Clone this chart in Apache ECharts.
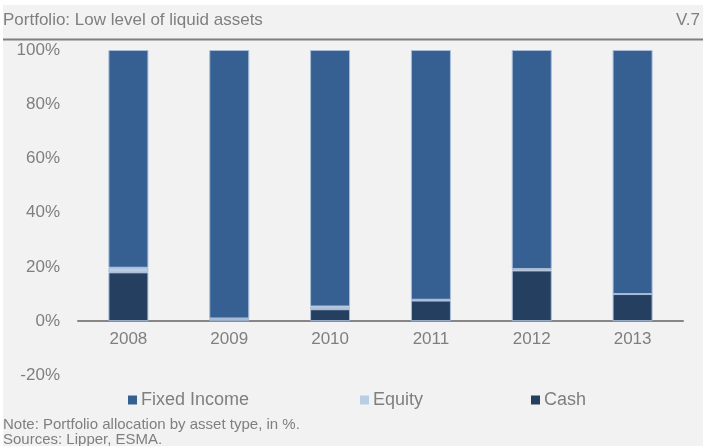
<!DOCTYPE html>
<html>
<head>
<meta charset="utf-8">
<script src="https://cdn.jsdelivr.net/npm/echarts@6/dist/echarts.min.js"></script>
<style>
html,body{margin:0;padding:0;background:#ffffff;}
#c{width:703px;height:446px;}
</style>
</head>
<body>
<div id="c"></div>
<script>
var categories = ['2008', '2009', '2010', '2011', '2012', '2013'];
var cash = [18.0, 0.8, 4.4, 7.6, 18.7, 10.0];
var equity = [1.7, 0.2, 1.0, 0.3, 0.5, 0.0];
var fixedIncome = [80.3, 99.0, 94.6, 92.1, 80.8, 90.0];
var yTicks = { min: -20, max: 100, interval: 20 };
var titleText = 'Portfolio: Low level of liquid assets';
var chartNumber = 'V.7';
var noteText = 'Note: Portfolio allocation by asset type, in %.';
var sourceText = 'Sources: Lipper, ESMA.';

var FONT = 'Arial, "Liberation Sans", sans-serif';
var GREY = '#7f7f7f';

var chart = echarts.init(document.getElementById('c'), null, { renderer: 'canvas' });

function legendAt(name, left) {
  return {
    data: [name], left: left, top: 391, itemWidth: 9, itemHeight: 9, itemGap: 0,
    icon: 'rect', padding: 0,
    itemStyle: { borderWidth: 0 },
    textStyle: { color: GREY, fontSize: 18, fontFamily: FONT, padding: [0, 0, 0, -1] }
  };
}

var barBorder = { borderColor: '#a8bcd8', borderWidth: 1 };

var gridTop = 50, gridBottom = 70.6, H = 446;
var zeroOffset = (H - gridTop - gridBottom) * (0 - yTicks.min) / (yTicks.max - yTicks.min);

chart.setOption({
  animation: false,
  backgroundColor: '#ffffff',
  graphic: [
    { type: 'rect', shape: { x: 3, y: 5, width: 700, height: 441 }, style: { fill: '#f2f2f2' }, z: -10 },
    { type: 'rect', shape: { x: 3, y: 38.5, width: 700, height: 2 }, style: { fill: '#7f7f7f' }, z: 1 },
    { type: 'text', left: 3, top: 12, style: { text: titleText, fill: GREY, font: '17px ' + FONT } },
    { type: 'text', right: 3, top: 12, style: { text: chartNumber, fill: GREY, font: '17px ' + FONT } },
    { type: 'text', left: 3, top: 417, style: { text: noteText, fill: GREY, font: '15px ' + FONT } },
    { type: 'text', left: 3, top: 432, style: { text: sourceText, fill: GREY, font: '15px ' + FONT } }
  ],
  grid: { left: 78, right: 20, top: gridTop, bottom: gridBottom, containLabel: false },
  legend: [
    legendAt('Fixed Income', 128),
    legendAt('Equity', 360),
    legendAt('Cash', 531)
  ],
  xAxis: {
    type: 'category',
    data: categories,
    offset: -zeroOffset,
    axisLine: { onZero: false, lineStyle: { color: '#868686', width: 2 } },
    axisTick: { show: false },
    axisLabel: { color: GREY, fontSize: 17, fontFamily: FONT, margin: 10 }
  },
  yAxis: {
    type: 'value',
    min: yTicks.min, max: yTicks.max, interval: yTicks.interval,
    axisLine: { show: false },
    axisTick: { show: false },
    splitLine: { show: false },
    axisLabel: { color: GREY, fontSize: 17, fontFamily: FONT, margin: 18, formatter: '{value}%' }
  },
  series: [
    { name: 'Cash', type: 'bar', stack: 'a', barWidth: 40, data: cash,
      itemStyle: Object.assign({ color: '#243f60' }, barBorder) },
    { name: 'Equity', type: 'bar', stack: 'a', barWidth: 40, data: equity,
      itemStyle: Object.assign({ color: '#b9cde5' }, barBorder) },
    { name: 'Fixed Income', type: 'bar', stack: 'a', barWidth: 40, data: fixedIncome,
      itemStyle: Object.assign({ color: '#366092' }, barBorder) }
  ]
});
</script>
</body>
</html>
